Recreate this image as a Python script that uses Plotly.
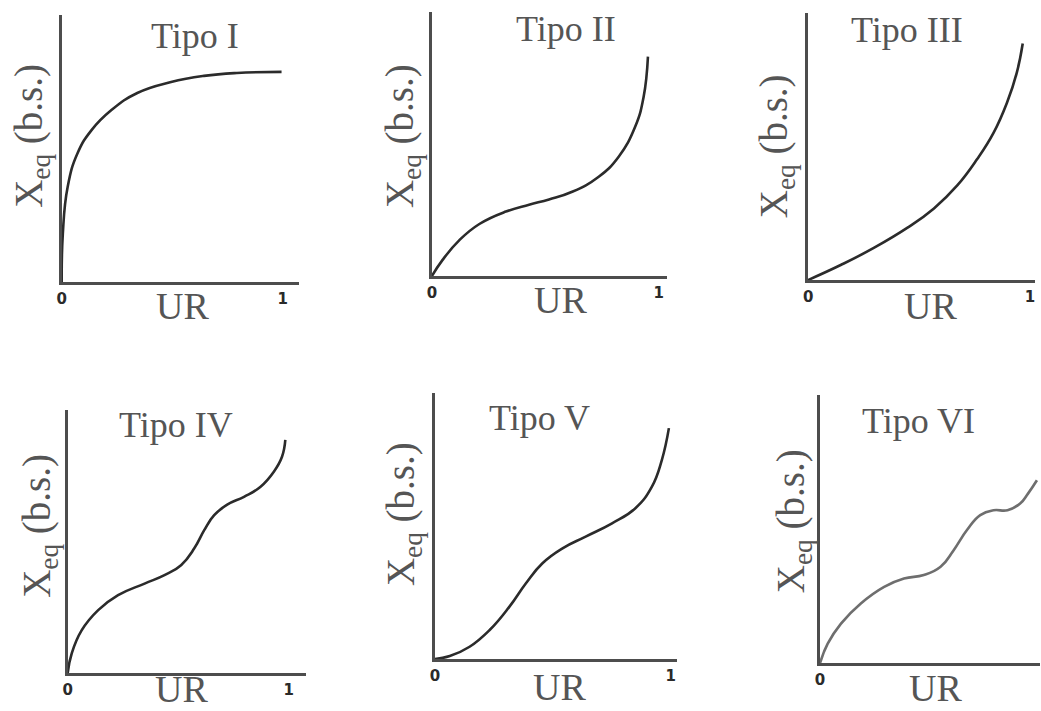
import plotly.graph_objects as go

W, H = 1041, 711

# Sorption isotherm shapes: relative humidity UR (0..1) vs equilibrium moisture Xeq (dry basis, relative units)
titles = ["Tipo I", "Tipo II", "Tipo III", "Tipo IV", "Tipo V", "Tipo VI"]

ur_tipo1 = [0, 0.005, 0.027, 0.072, 0.135, 0.225, 0.342, 0.495, 0.644, 0.793, 0.995]
xeq_tipo1 = [0, 0.18, 0.357, 0.483, 0.569, 0.644, 0.708, 0.749, 0.772, 0.783, 0.787]

ur_tipo2 = [0, 0.047, 0.121, 0.209, 0.326, 0.428, 0.516, 0.618, 0.735, 0.823, 0.896, 0.933, 0.952]
xeq_tipo2 = [0, 0.061, 0.136, 0.197, 0.244, 0.270, 0.290, 0.319, 0.376, 0.452, 0.566, 0.679, 0.831]

ur_tipo3 = [0, 0.149, 0.298, 0.448, 0.567, 0.672, 0.761, 0.836, 0.896, 0.940, 0.967]
xeq_tipo3 = [0, 0.057, 0.121, 0.196, 0.268, 0.354, 0.452, 0.552, 0.664, 0.776, 0.886]

ur_tipo4 = [0, 0.018, 0.063, 0.138, 0.228, 0.348, 0.438, 0.513, 0.573, 0.618, 0.663,
            0.722, 0.798, 0.873, 0.933, 0.970, 0.985]
xeq_tipo4 = [0, 0.074, 0.162, 0.239, 0.296, 0.340, 0.372, 0.410, 0.474, 0.543, 0.600,
             0.640, 0.670, 0.708, 0.765, 0.822, 0.886]

ur_tipo5 = [0, 0.063, 0.147, 0.232, 0.316, 0.386, 0.456, 0.541, 0.639, 0.751, 0.850,
            0.920, 0.962, 0.992]
xeq_tipo5 = [0, 0.011, 0.046, 0.109, 0.197, 0.285, 0.360, 0.416, 0.460, 0.510, 0.567,
             0.648, 0.748, 0.868]

ur_tipo6 = [0, 0.035, 0.096, 0.187, 0.294, 0.385, 0.476, 0.553, 0.613, 0.674, 0.735,
            0.796, 0.860, 0.918, 0.954, 0.995]
xeq_tipo6 = [0, 0.072, 0.147, 0.222, 0.284, 0.315, 0.328, 0.359, 0.421, 0.496, 0.552,
             0.570, 0.570, 0.595, 0.632, 0.682]

series = [
    (ur_tipo1, xeq_tipo1), (ur_tipo2, xeq_tipo2), (ur_tipo3, xeq_tipo3),
    (ur_tipo4, xeq_tipo4), (ur_tipo5, xeq_tipo5), (ur_tipo6, xeq_tipo6),
]
curve_colors = ["#2b2b2b", "#2b2b2b", "#2b2b2b", "#2b2b2b", "#2b2b2b", "#6e6e6e"]
x_ticks = [0, 1]
x_ticktext = ["0", "1"]
x_label = "UR"
y_label = "X<sub>eq</sub> (b.s.)"

# Panel frames in pixels: y-axis x, x of UR=1, x-axis end, top, bottom
frames = [
    (57, 279, 295, 15, 282),
    (429, 657, 665, 12, 276),
    (807, 1030, 1035, 13, 280),
    (63, 285, 302, 410, 673),
    (432, 669, 675, 393, 659),
    (819, 1038, 1040, 395, 663),
]
# Text centres in pixels: title, x label, y label
title_pos = [(191, 36), (564, 29), (906, 30), (172, 425), (537, 418), (918, 421)]
xlab_pos = [(178, 306), (558, 300), (930, 306), (177, 689), (557, 687), (935, 688)]
ylab_pos = [(27, 136), (400, 136), (776, 146), (34, 526), (400, 514), (792, 521)]

TEXT = "#555555"
AXIS = "#4d4d4d"
SERIF = "Liberation Serif"

fig = go.Figure()
layout = dict(
    width=W, height=H,
    margin=dict(l=0, r=0, t=0, b=0),
    paper_bgcolor="white", plot_bgcolor="white",
    showlegend=False,
)
annotations = []

for i, ((ur, xeq), (x0, x1, xe, yt, yb)) in enumerate(zip(series, frames)):
    k = "" if i == 0 else str(i + 1)
    fig.add_trace(go.Scatter(
        x=ur, y=xeq, mode="lines",
        line=dict(color=curve_colors[i], width=2.6, shape="spline", smoothing=1.3),
        xaxis="x" + k, yaxis="y" + k, hoverinfo="skip",
    ))
    layout["xaxis" + k] = dict(
        domain=[x0 / W, xe / W], range=[0, (xe - x0) / (x1 - x0)], anchor="y" + k,
        showgrid=False, zeroline=False, showline=True, linecolor=AXIS, linewidth=3,
        tickvals=x_ticks, ticktext=x_ticktext, ticks="outside", ticklen=1,
        tickcolor="rgba(0,0,0,0)",
        tickfont=dict(family="DejaVu Sans", size=15, color="#2a2a2a", weight="bold"),
        fixedrange=True,
    )
    layout["yaxis" + k] = dict(
        domain=[1 - yb / H, 1 - yt / H], range=[0, 1], anchor="x" + k,
        showgrid=False, zeroline=False, showline=True, linecolor=AXIS, linewidth=3,
        showticklabels=False, ticks="", fixedrange=True,
    )
    tx, ty = title_pos[i]
    annotations.append(dict(
        text=titles[i], x=tx / W, y=1 - ty / H, xref="paper", yref="paper",
        xanchor="center", yanchor="middle", showarrow=False,
        font=dict(family=SERIF, size=36, color=TEXT),
    ))
    lx, ly = xlab_pos[i]
    annotations.append(dict(
        text=x_label, x=lx / W, y=1 - ly / H, xref="paper", yref="paper",
        xanchor="center", yanchor="middle", showarrow=False,
        font=dict(family=SERIF, size=38, color=TEXT),
    ))
    vx, vy = ylab_pos[i]
    annotations.append(dict(
        text=y_label, x=vx / W, y=1 - vy / H, xref="paper", yref="paper",
        xanchor="center", yanchor="middle", showarrow=False, textangle=-90,
        font=dict(family=SERIF, size=39, color=TEXT),
    ))

layout["annotations"] = annotations
fig.update_layout(**layout)
fig.write_html("out.html")
